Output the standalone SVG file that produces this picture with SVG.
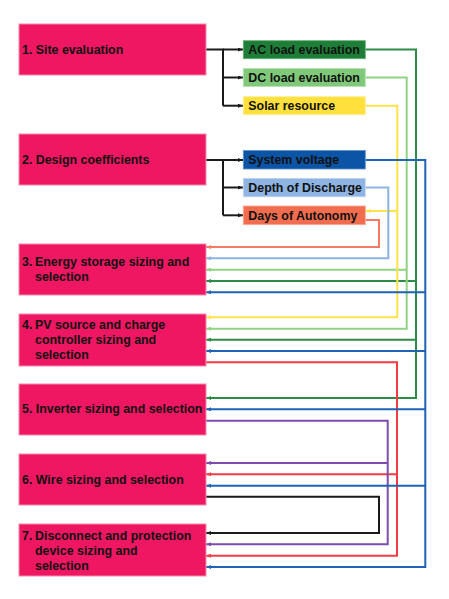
<svg xmlns="http://www.w3.org/2000/svg" width="449" height="599" viewBox="0 0 449 599">
<style>
.main{fill:#EF1761;stroke:#F58AAE;stroke-width:1}
.t{font-family:"Liberation Sans",Arial,sans-serif;font-weight:bold;font-size:12.4px;fill:#111}
.c{fill:none;stroke-width:2}
.k{stroke:#1a1a1a}.dg{stroke:#2E8B47}.lg{stroke:#8FD382}.y{stroke:#FFE24A}.b{stroke:#1F63B5}.lb{stroke:#8DB3E2}.o{stroke:#F47B62}.r{stroke:#F43A44}.p{stroke:#7D4CAD}
</style>
<defs>
<marker id="ak" markerWidth="5" markerHeight="4" refX="5" refY="2" orient="auto" markerUnits="userSpaceOnUse"><path d="M0,0 L5,2 L0,4 z" fill="#1a1a1a"/></marker>
<marker id="adg" markerWidth="5" markerHeight="4" refX="5" refY="2" orient="auto" markerUnits="userSpaceOnUse"><path d="M0,0 L5,2 L0,4 z" fill="#2E8B47"/></marker>
<marker id="alg" markerWidth="5" markerHeight="4" refX="5" refY="2" orient="auto" markerUnits="userSpaceOnUse"><path d="M0,0 L5,2 L0,4 z" fill="#8FD382"/></marker>
<marker id="ay" markerWidth="5" markerHeight="4" refX="5" refY="2" orient="auto" markerUnits="userSpaceOnUse"><path d="M0,0 L5,2 L0,4 z" fill="#FFE24A"/></marker>
<marker id="ab" markerWidth="5" markerHeight="4" refX="5" refY="2" orient="auto" markerUnits="userSpaceOnUse"><path d="M0,0 L5,2 L0,4 z" fill="#1F63B5"/></marker>
<marker id="alb" markerWidth="5" markerHeight="4" refX="5" refY="2" orient="auto" markerUnits="userSpaceOnUse"><path d="M0,0 L5,2 L0,4 z" fill="#8DB3E2"/></marker>
<marker id="ao" markerWidth="5" markerHeight="4" refX="5" refY="2" orient="auto" markerUnits="userSpaceOnUse"><path d="M0,0 L5,2 L0,4 z" fill="#F47B62"/></marker>
<marker id="ar" markerWidth="5" markerHeight="4" refX="5" refY="2" orient="auto" markerUnits="userSpaceOnUse"><path d="M0,0 L5,2 L0,4 z" fill="#F43A44"/></marker>
<marker id="ap" markerWidth="5" markerHeight="4" refX="5" refY="2" orient="auto" markerUnits="userSpaceOnUse"><path d="M0,0 L5,2 L0,4 z" fill="#7D4CAD"/></marker>
</defs>

<g id="connectors">
<path class="c k" d="M206,49.5 H223 V105.7"/>
<path class="c k" d="M223,49.5 H243" marker-end="url(#ak)"/>
<path class="c k" d="M223,77.5 H243" marker-end="url(#ak)"/>
<path class="c k" d="M223,105.7 H243" marker-end="url(#ak)"/>
<path class="c k" d="M206,160 H223 V215.3"/>
<path class="c k" d="M223,160 H243" marker-end="url(#ak)"/>
<path class="c k" d="M223,187.5 H243" marker-end="url(#ak)"/>
<path class="c k" d="M223,215.3 H243" marker-end="url(#ak)"/>

<path class="c dg" d="M365.5,49.5 H416 V398 H206" marker-end="url(#adg)"/>
<path class="c dg" d="M416,281 H206" marker-end="url(#adg)"/>
<path class="c dg" d="M416,339.7 H206" marker-end="url(#adg)"/>

<path class="c lg" d="M365.5,77.5 H406.7 V328.7 H206" marker-end="url(#alg)"/>
<path class="c lg" d="M406.7,269.7 H206" marker-end="url(#alg)"/>

<path class="c y" d="M365.5,105.7 H397.3 V317.3 H206" marker-end="url(#ay)"/>
<path class="c y" d="M397.3,211 H365.5" marker-end="url(#ay)"/>

<path class="c lb" d="M365.5,187.5 H388.3 V258.3 H206" marker-end="url(#alb)"/>
<path class="c o" d="M365.5,220 H379 V247 H206" marker-end="url(#ao)"/>

<path class="c r" d="M206,362.3 H397 V555.7 H206" marker-end="url(#ar)"/>
<path class="c r" d="M397,474.3 H206" marker-end="url(#ar)"/>

<path class="c p" d="M206,420.7 H387.7 V544.3 H206" marker-end="url(#ap)"/>
<path class="c p" d="M387.7,463 H206" marker-end="url(#ap)"/>

<path class="c k" d="M206,496.7 H379 V533 H206" marker-end="url(#ak)"/>

<path class="c b" d="M365.5,160 H425.3 V567 H206" marker-end="url(#ab)"/>
<path class="c b" d="M425.3,292.3 H206" marker-end="url(#ab)"/>
<path class="c b" d="M425.3,351 H206" marker-end="url(#ab)"/>
<path class="c b" d="M425.3,409.3 H206" marker-end="url(#ab)"/>
<path class="c b" d="M425.3,485.7 H206" marker-end="url(#ab)"/>
</g>

<g id="n1"><rect class="main" x="19" y="24" width="187" height="51"/><text class="t" x="22" y="53.5">1. Site evaluation</text></g>
<g id="n2"><rect class="main" x="19" y="134" width="187" height="51"/><text class="t" x="22" y="163.8">2. Design coefficients</text></g>
<g id="n3"><rect class="main" x="19" y="244" width="187" height="51"/><text class="t" y="265.5"><tspan x="22">3.</tspan><tspan x="35">Energy storage sizing and</tspan><tspan x="35" dy="15">selection</tspan></text></g>
<g id="n4"><rect class="main" x="19" y="314" width="187" height="52"/><text class="t" y="329.2"><tspan x="22">4.</tspan><tspan x="35">PV source and charge</tspan><tspan x="35" dy="14.8">controller sizing and</tspan><tspan x="35" dy="14.8">selection</tspan></text></g>
<g id="n5"><rect class="main" x="19" y="384" width="187" height="51"/><text class="t" x="22" y="412.5">5. Inverter sizing and selection</text></g>
<g id="n6"><rect class="main" x="19" y="454" width="187" height="51"/><text class="t" x="22" y="483.5">6. Wire sizing and selection</text></g>
<g id="n7"><rect class="main" x="19" y="524" width="187" height="52"/><text class="t" y="539.5"><tspan x="22">7.</tspan><tspan x="35">Disconnect and protection</tspan><tspan x="35" dy="15">device sizing and</tspan><tspan x="35" dy="15">selection</tspan></text></g>

<g id="ac"><rect x="243.3" y="40.7" width="122" height="18" fill="#1E7E37" stroke="#5FAF72" stroke-width="0.8"/><text class="t" x="248.3" y="54">AC load evaluation</text></g>
<g id="dc"><rect x="243.3" y="68.5" width="122" height="18" fill="#80C97A" stroke="#B5E2AE" stroke-width="0.8"/><text class="t" x="248.3" y="82">DC load evaluation</text></g>
<g id="solar"><rect x="243.3" y="96.7" width="122" height="18" fill="#FFE03D" stroke="#FFEE99" stroke-width="0.8"/><text class="t" x="248.3" y="110.2">Solar resource</text></g>
<g id="sv"><rect x="243.3" y="150.5" width="122" height="18.5" fill="#0B54A6" stroke="#5F8FCB" stroke-width="0.8"/><text class="t" x="248.3" y="164.3">System voltage</text></g>
<g id="dod"><rect x="243.3" y="178.3" width="122" height="18.5" fill="#8EB4E3" stroke="#C2D6F0" stroke-width="0.8"/><text class="t" x="248.3" y="192">Depth of Discharge</text></g>
<g id="doa"><rect x="243.3" y="206" width="122" height="18.7" fill="#F26D4F" stroke="#F8A893" stroke-width="0.8"/><text class="t" x="248.3" y="219.8">Days of Autonomy</text></g>
</svg>
